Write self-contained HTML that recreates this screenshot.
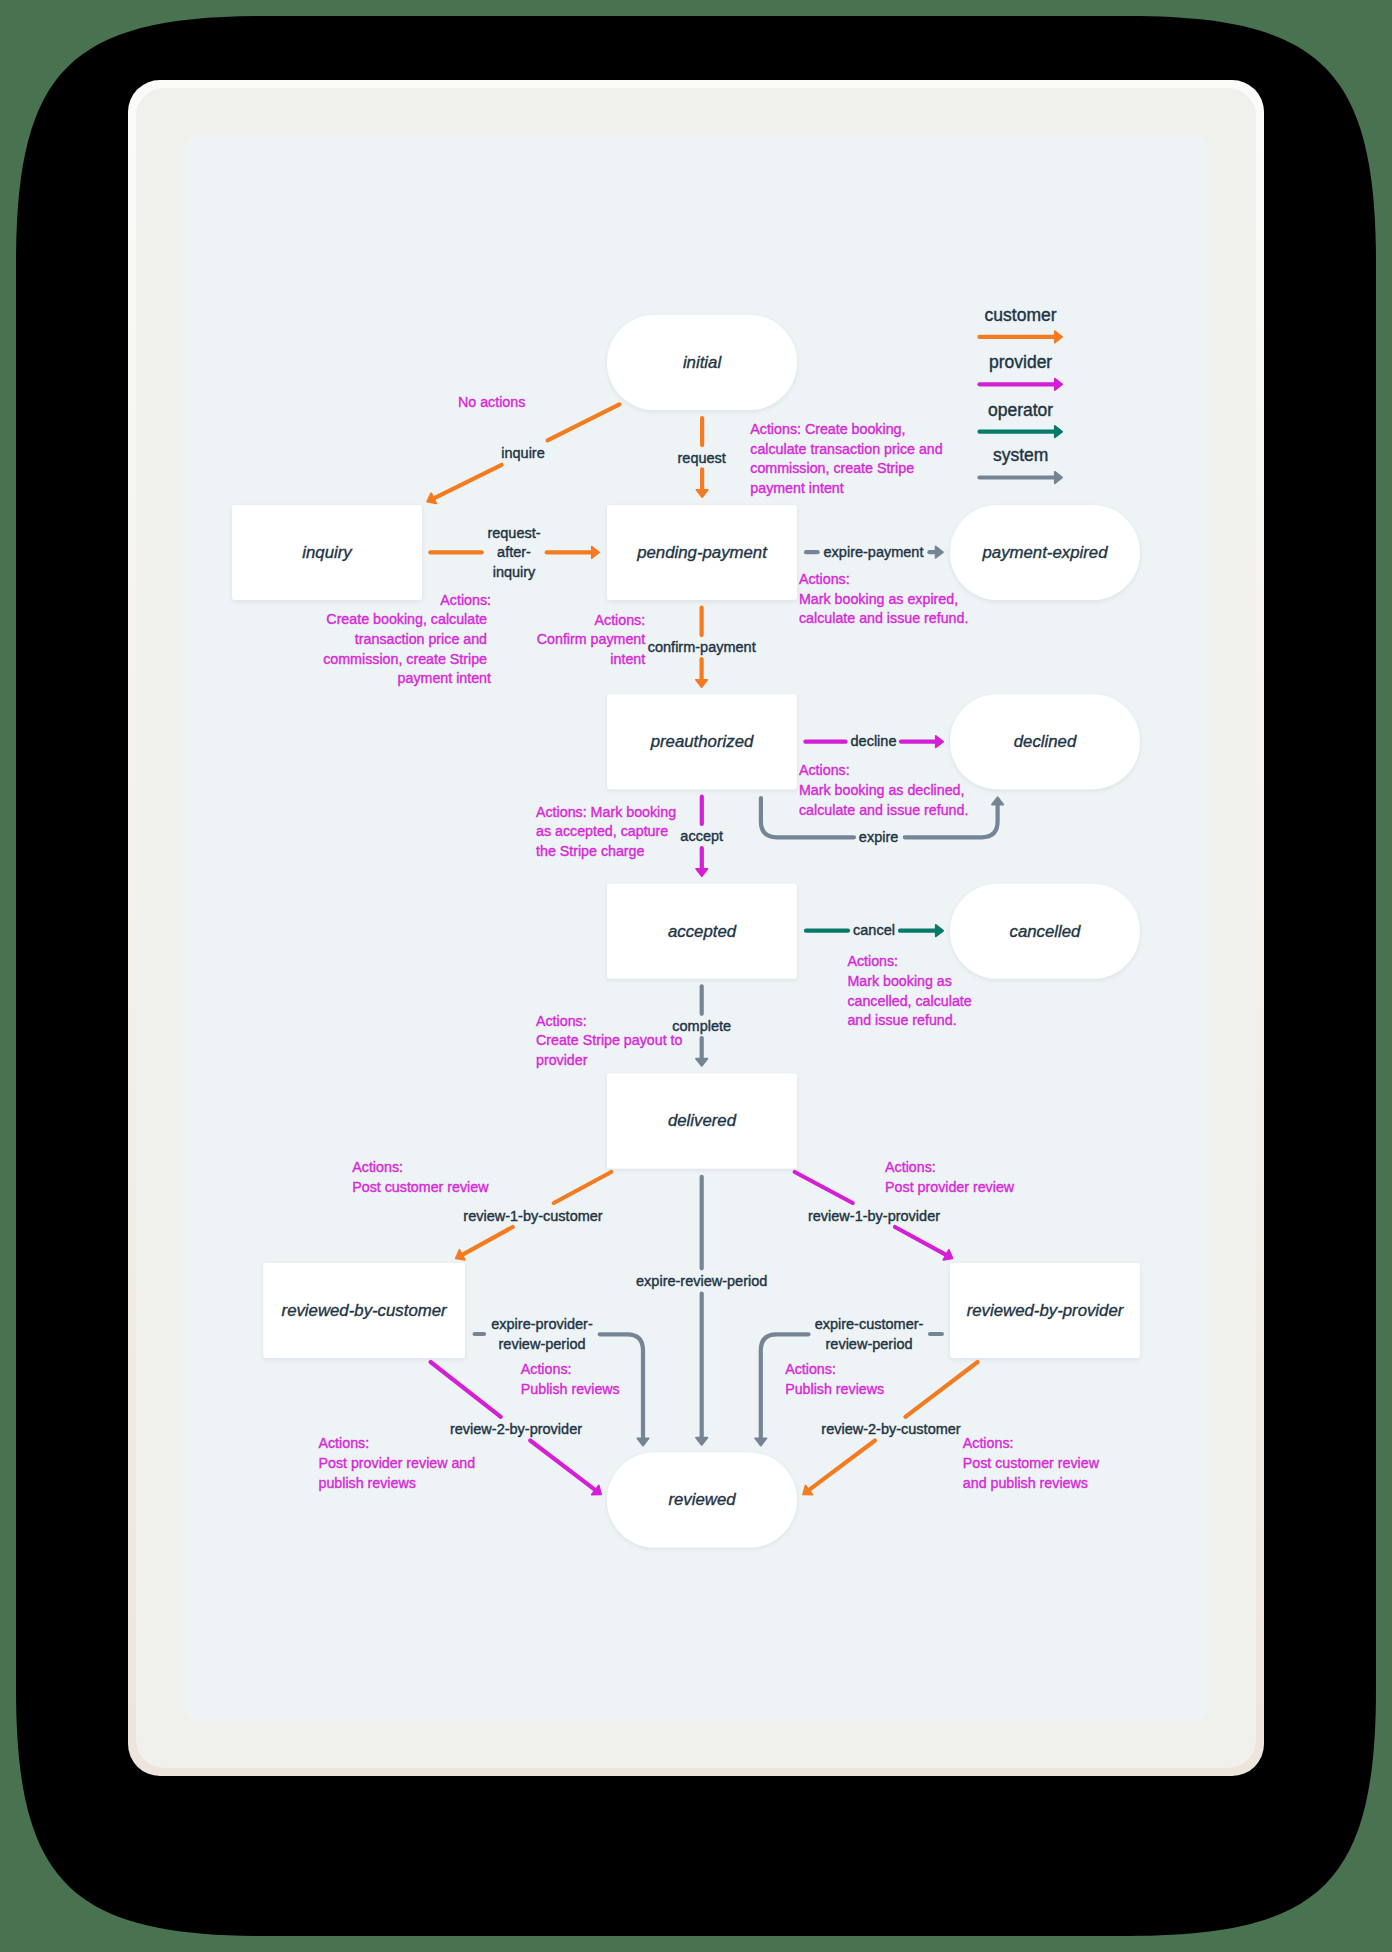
<!DOCTYPE html>
<html><head><meta charset="utf-8"><title>Booking state diagram</title>
<style>
html,body{margin:0;padding:0;width:1392px;height:1952px;overflow:hidden;background:#497350;}
svg{position:absolute;left:0;top:0;display:block;}
text{font-family:"Liberation Sans",sans-serif;}
</style></head><body>
<svg width="1392" height="1952" viewBox="0 0 1392 1952">
<path d="M16,264 C16,70 70,16 264,16 L1128,16 C1322,16 1376,70 1376,264 L1376,1688 C1376,1882 1322,1936 1128,1936 L264,1936 C70,1936 16,1882 16,1688 Z" fill="#000"/>
<defs><linearGradient id="bd" x1="0" y1="0" x2="0" y2="1"><stop offset="0" stop-color="#fbfbf9"/><stop offset="1" stop-color="#ede5dc"/></linearGradient><filter id="sh" x="-10%" y="-10%" width="120%" height="130%"><feDropShadow dx="0" dy="1.5" stdDeviation="2.2" flood-color="#1a2a40" flood-opacity="0.08"/></filter></defs>
<rect x="128" y="80" width="1136" height="1696" rx="32" fill="url(#bd)"/>
<rect x="136" y="88" width="1120" height="1680" rx="28" fill="#f0f0ec"/>
<rect x="184" y="136" width="1024" height="1584" rx="14" fill="#eef3f6"/>
<g filter="url(#sh)">
<rect x="607" y="315" width="190" height="95" rx="47.5" fill="#fff"/>
<rect x="232" y="505" width="190" height="95" rx="3" fill="#fff"/>
<rect x="607" y="505" width="190" height="95" rx="3" fill="#fff"/>
<rect x="950" y="505" width="190" height="95" rx="47.5" fill="#fff"/>
<rect x="607" y="694.2" width="190" height="95" rx="3" fill="#fff"/>
<rect x="950" y="694.2" width="190" height="95" rx="47.5" fill="#fff"/>
<rect x="607" y="883.8" width="190" height="95" rx="3" fill="#fff"/>
<rect x="950" y="883.8" width="190" height="95" rx="47.5" fill="#fff"/>
<rect x="607" y="1073.6" width="190" height="95" rx="3" fill="#fff"/>
<rect x="263.3" y="1263" width="201.7" height="95" rx="3" fill="#fff"/>
<rect x="950" y="1263" width="190" height="95" rx="3" fill="#fff"/>
<rect x="607" y="1452.5" width="190" height="95" rx="47.5" fill="#fff"/>
</g>
<g font-style="italic" font-size="16.8" fill="#223443" stroke="#223443" stroke-width="0.35" text-anchor="middle">
<text x="702.0" y="367.7">initial</text>
<text x="327.0" y="557.7">inquiry</text>
<text x="702.0" y="557.7">pending-payment</text>
<text x="1045.0" y="557.7">payment-expired</text>
<text x="702.0" y="746.9">preauthorized</text>
<text x="1045.0" y="746.9">declined</text>
<text x="702.0" y="936.5">accepted</text>
<text x="1045.0" y="936.5">cancelled</text>
<text x="702.0" y="1126.3">delivered</text>
<text x="364.1" y="1315.7">reviewed-by-customer</text>
<text x="1045.0" y="1315.7">reviewed-by-provider</text>
<text x="702.0" y="1505.2">reviewed</text>
</g>
<line x1="979.5" y1="336.9" x2="1055.80" y2="336.90" stroke="#f47b20" stroke-width="4.2" stroke-linecap="round"/>
<polygon points="1062.10,336.90 1054.80,342.60 1054.80,331.20" fill="#f47b20" stroke="#f47b20" stroke-width="1.8" stroke-linejoin="round"/>
<line x1="979.5" y1="384.3" x2="1055.80" y2="384.30" stroke="#d41fd6" stroke-width="4.2" stroke-linecap="round"/>
<polygon points="1062.10,384.30 1054.80,390.00 1054.80,378.60" fill="#d41fd6" stroke="#d41fd6" stroke-width="1.8" stroke-linejoin="round"/>
<line x1="979.5" y1="431.7" x2="1055.80" y2="431.70" stroke="#077a68" stroke-width="4.2" stroke-linecap="round"/>
<polygon points="1062.10,431.70 1054.80,437.40 1054.80,426.00" fill="#077a68" stroke="#077a68" stroke-width="1.8" stroke-linejoin="round"/>
<line x1="979.5" y1="477.5" x2="1055.80" y2="477.50" stroke="#768595" stroke-width="4.2" stroke-linecap="round"/>
<polygon points="1062.10,477.50 1054.80,483.20 1054.80,471.80" fill="#768595" stroke="#768595" stroke-width="1.8" stroke-linejoin="round"/>
<line x1="619.4" y1="404.4" x2="547.6" y2="440.3" stroke="#f47b20" stroke-width="4.2" stroke-linecap="round"/>
<line x1="501.6" y1="464.8" x2="432.76" y2="498.81" stroke="#f47b20" stroke-width="4.2" stroke-linecap="round"/>
<polygon points="427.11,501.60 431.13,493.26 436.18,503.48" fill="#f47b20" stroke="#f47b20" stroke-width="1.8" stroke-linejoin="round"/>
<line x1="702.1" y1="418.2" x2="702.1" y2="445.1" stroke="#f47b20" stroke-width="4.2" stroke-linecap="round"/>
<line x1="702.1" y1="469.4" x2="702.10" y2="490.80" stroke="#f47b20" stroke-width="4.2" stroke-linecap="round"/>
<polygon points="702.10,497.10 696.40,489.80 707.80,489.80" fill="#f47b20" stroke="#f47b20" stroke-width="1.8" stroke-linejoin="round"/>
<line x1="430.3" y1="552.4" x2="481.8" y2="552.4" stroke="#f47b20" stroke-width="4.2" stroke-linecap="round"/>
<line x1="546.7" y1="552.4" x2="592.80" y2="552.40" stroke="#f47b20" stroke-width="4.2" stroke-linecap="round"/>
<polygon points="599.10,552.40 591.80,558.10 591.80,546.70" fill="#f47b20" stroke="#f47b20" stroke-width="1.8" stroke-linejoin="round"/>
<line x1="806.0" y1="552.2" x2="817.6" y2="552.2" stroke="#768595" stroke-width="4.2" stroke-linecap="round"/>
<line x1="929.4" y1="552.2" x2="936.60" y2="552.20" stroke="#768595" stroke-width="4.2" stroke-linecap="round"/>
<polygon points="942.90,552.20 935.60,557.90 935.60,546.50" fill="#768595" stroke="#768595" stroke-width="1.8" stroke-linejoin="round"/>
<line x1="701.6" y1="607.7" x2="701.6" y2="635.1" stroke="#f47b20" stroke-width="4.2" stroke-linecap="round"/>
<line x1="701.6" y1="659.2" x2="701.60" y2="680.80" stroke="#f47b20" stroke-width="4.2" stroke-linecap="round"/>
<polygon points="701.60,687.10 695.90,679.80 707.30,679.80" fill="#f47b20" stroke="#f47b20" stroke-width="1.8" stroke-linejoin="round"/>
<line x1="805.4" y1="741.7" x2="845.6" y2="741.7" stroke="#d41fd6" stroke-width="4.2" stroke-linecap="round"/>
<line x1="901" y1="741.7" x2="936.80" y2="741.70" stroke="#d41fd6" stroke-width="4.2" stroke-linecap="round"/>
<polygon points="943.10,741.70 935.80,747.40 935.80,736.00" fill="#d41fd6" stroke="#d41fd6" stroke-width="1.8" stroke-linejoin="round"/>
<line x1="701.8" y1="796.7" x2="701.8" y2="824.0" stroke="#d41fd6" stroke-width="4.2" stroke-linecap="round"/>
<line x1="701.8" y1="848.2" x2="701.80" y2="869.80" stroke="#d41fd6" stroke-width="4.2" stroke-linecap="round"/>
<polygon points="701.80,876.10 696.10,868.80 707.50,868.80" fill="#d41fd6" stroke="#d41fd6" stroke-width="1.8" stroke-linejoin="round"/>
<path d="M760.9,798 L760.9,821.3 Q760.9,837.3 776.9,837.3 L854,837.3" fill="none" stroke="#768595" stroke-width="4.2" stroke-linecap="round"/>
<path d="M904.8,837.3 L981.6,837.3 Q997.6,837.3 997.6,821.3 L997.6,804" fill="none" stroke="#768595" stroke-width="4.2" stroke-linecap="round"/>
<polygon points="997.60,797.20 1003.30,804.50 991.90,804.50" fill="#768595" stroke="#768595" stroke-width="1.8" stroke-linejoin="round"/>
<line x1="806.0" y1="930.7" x2="848.0" y2="930.7" stroke="#077a68" stroke-width="4.2" stroke-linecap="round"/>
<line x1="900" y1="930.7" x2="936.80" y2="930.70" stroke="#077a68" stroke-width="4.2" stroke-linecap="round"/>
<polygon points="943.10,930.70 935.80,936.40 935.80,925.00" fill="#077a68" stroke="#077a68" stroke-width="1.8" stroke-linejoin="round"/>
<line x1="701.7" y1="986.3" x2="701.7" y2="1013.8" stroke="#768595" stroke-width="4.2" stroke-linecap="round"/>
<line x1="701.7" y1="1038.1" x2="701.70" y2="1059.60" stroke="#768595" stroke-width="4.2" stroke-linecap="round"/>
<polygon points="701.70,1065.90 696.00,1058.60 707.40,1058.60" fill="#768595" stroke="#768595" stroke-width="1.8" stroke-linejoin="round"/>
<line x1="611.2" y1="1172.0" x2="553.8" y2="1203.0" stroke="#f47b20" stroke-width="4.2" stroke-linecap="round"/>
<line x1="512.7" y1="1227" x2="461.31" y2="1255.32" stroke="#f47b20" stroke-width="4.2" stroke-linecap="round"/>
<polygon points="455.79,1258.37 459.43,1249.85 464.93,1259.83" fill="#f47b20" stroke="#f47b20" stroke-width="1.8" stroke-linejoin="round"/>
<line x1="794.7" y1="1172.0" x2="852.7" y2="1203.0" stroke="#d41fd6" stroke-width="4.2" stroke-linecap="round"/>
<line x1="895" y1="1227" x2="946.98" y2="1255.35" stroke="#d41fd6" stroke-width="4.2" stroke-linecap="round"/>
<polygon points="952.51,1258.37 943.37,1259.88 948.83,1249.87" fill="#d41fd6" stroke="#d41fd6" stroke-width="1.8" stroke-linejoin="round"/>
<line x1="701.7" y1="1176.9" x2="701.7" y2="1268.3" stroke="#768595" stroke-width="4.2" stroke-linecap="round"/>
<line x1="701.7" y1="1293.5" x2="701.70" y2="1438.60" stroke="#768595" stroke-width="4.2" stroke-linecap="round"/>
<polygon points="701.70,1444.90 696.00,1437.60 707.40,1437.60" fill="#768595" stroke="#768595" stroke-width="1.8" stroke-linejoin="round"/>
<line x1="474.6" y1="1334.0" x2="484.0" y2="1334.0" stroke="#768595" stroke-width="4.2" stroke-linecap="round"/>
<path d="M599.7,1334.3 L627,1334.3 Q643,1334.3 643,1350.3 L643,1438" fill="none" stroke="#768595" stroke-width="4.2" stroke-linecap="round"/>
<polygon points="643.00,1445.60 637.30,1438.30 648.70,1438.30" fill="#768595" stroke="#768595" stroke-width="1.8" stroke-linejoin="round"/>
<line x1="941.9" y1="1334.0" x2="930.0" y2="1334.0" stroke="#768595" stroke-width="4.2" stroke-linecap="round"/>
<path d="M808.5,1334.3 L776.8,1334.3 Q760.8,1334.3 760.8,1350.3 L760.8,1438" fill="none" stroke="#768595" stroke-width="4.2" stroke-linecap="round"/>
<polygon points="760.80,1445.60 755.10,1438.30 766.50,1438.30" fill="#768595" stroke="#768595" stroke-width="1.8" stroke-linejoin="round"/>
<line x1="430.6" y1="1362.0" x2="500.8" y2="1416.8" stroke="#d41fd6" stroke-width="4.2" stroke-linecap="round"/>
<line x1="530.2" y1="1440.5" x2="596.07" y2="1490.64" stroke="#d41fd6" stroke-width="4.2" stroke-linecap="round"/>
<polygon points="601.08,1494.45 591.82,1494.57 598.73,1485.50" fill="#d41fd6" stroke="#d41fd6" stroke-width="1.8" stroke-linejoin="round"/>
<line x1="977.6" y1="1362.0" x2="905.4" y2="1416.8" stroke="#f47b20" stroke-width="4.2" stroke-linecap="round"/>
<line x1="875" y1="1440.5" x2="808.16" y2="1490.68" stroke="#f47b20" stroke-width="4.2" stroke-linecap="round"/>
<polygon points="803.12,1494.46 805.54,1485.52 812.38,1494.64" fill="#f47b20" stroke="#f47b20" stroke-width="1.8" stroke-linejoin="round"/>
<g font-size="14.8" fill="#223443" stroke="#223443" stroke-width="0.4">
<text transform="translate(523,457.8) scale(0.98,1)" text-anchor="middle">inquire</text>
<text transform="translate(701.7,463.3) scale(0.98,1)" text-anchor="middle">request</text>
<text transform="translate(514,537.7) scale(0.98,1)" text-anchor="middle">request-</text>
<text transform="translate(514,557.1) scale(0.98,1)" text-anchor="middle">after-</text>
<text transform="translate(514,576.7) scale(0.98,1)" text-anchor="middle">inquiry</text>
<text transform="translate(873.5,556.9) scale(0.98,1)" text-anchor="middle">expire-payment</text>
<text transform="translate(701.7,652.3) scale(0.98,1)" text-anchor="middle">confirm-payment</text>
<text transform="translate(873.5,746.4) scale(0.98,1)" text-anchor="middle">decline</text>
<text transform="translate(701.7,841.3) scale(0.98,1)" text-anchor="middle">accept</text>
<text transform="translate(878.6,842.0) scale(0.98,1)" text-anchor="middle">expire</text>
<text transform="translate(874,935.4) scale(0.98,1)" text-anchor="middle">cancel</text>
<text transform="translate(701.7,1031.0) scale(0.98,1)" text-anchor="middle">complete</text>
<text transform="translate(533,1220.7) scale(0.98,1)" text-anchor="middle">review-1-by-customer</text>
<text transform="translate(874,1220.7) scale(0.98,1)" text-anchor="middle">review-1-by-provider</text>
<text transform="translate(701.7,1285.7) scale(0.98,1)" text-anchor="middle">expire-review-period</text>
<text transform="translate(542,1329.4) scale(0.98,1)" text-anchor="middle">expire-provider-</text>
<text transform="translate(542,1348.7) scale(0.98,1)" text-anchor="middle">review-period</text>
<text transform="translate(869,1329.4) scale(0.98,1)" text-anchor="middle">expire-customer-</text>
<text transform="translate(869,1348.7) scale(0.98,1)" text-anchor="middle">review-period</text>
<text transform="translate(516,1434.0) scale(0.98,1)" text-anchor="middle">review-2-by-provider</text>
<text transform="translate(891,1434.0) scale(0.98,1)" text-anchor="middle">review-2-by-customer</text>
</g>
<g font-size="17.5" fill="#223443" stroke="#223443" stroke-width="0.4" text-anchor="middle">
<text x="1020.6" y="320.7">customer</text>
<text x="1020.6" y="367.6">provider</text>
<text x="1020.6" y="415.5">operator</text>
<text x="1020.6" y="460.8">system</text>
</g>
<g font-size="14.8" fill="#d62ad6" stroke="#d62ad6" stroke-width="0.4">
<text transform="translate(458,406.80) scale(0.963,1)" text-anchor="start" xml:space="preserve">No actions</text>
<text transform="translate(750.3,434.00) scale(0.963,1)" text-anchor="start" xml:space="preserve">Actions: Create booking,</text>
<text transform="translate(750.3,453.70) scale(0.963,1)" text-anchor="start" xml:space="preserve">calculate transaction price and</text>
<text transform="translate(750.3,473.40) scale(0.963,1)" text-anchor="start" xml:space="preserve">commission, create Stripe</text>
<text transform="translate(750.3,493.10) scale(0.963,1)" text-anchor="start" xml:space="preserve">payment intent</text>
<text transform="translate(491,604.60) scale(0.963,1)" text-anchor="end" xml:space="preserve">Actions:</text>
<text transform="translate(491,624.30) scale(0.963,1)" text-anchor="end" xml:space="preserve">Create booking, calculate </text>
<text transform="translate(491,644.00) scale(0.963,1)" text-anchor="end" xml:space="preserve">transaction price and </text>
<text transform="translate(491,663.70) scale(0.963,1)" text-anchor="end" xml:space="preserve">commission, create Stripe </text>
<text transform="translate(491,683.40) scale(0.963,1)" text-anchor="end" xml:space="preserve">payment intent</text>
<text transform="translate(799,584.00) scale(0.963,1)" text-anchor="start" xml:space="preserve">Actions:</text>
<text transform="translate(799,603.70) scale(0.963,1)" text-anchor="start" xml:space="preserve">Mark booking as expired,</text>
<text transform="translate(799,623.40) scale(0.963,1)" text-anchor="start" xml:space="preserve">calculate and issue refund.</text>
<text transform="translate(645.2,624.70) scale(0.963,1)" text-anchor="end" xml:space="preserve">Actions:</text>
<text transform="translate(645.2,644.40) scale(0.963,1)" text-anchor="end" xml:space="preserve">Confirm payment</text>
<text transform="translate(645.2,664.10) scale(0.963,1)" text-anchor="end" xml:space="preserve">intent</text>
<text transform="translate(799,775.10) scale(0.963,1)" text-anchor="start" xml:space="preserve">Actions:</text>
<text transform="translate(799,794.80) scale(0.963,1)" text-anchor="start" xml:space="preserve">Mark booking as declined,</text>
<text transform="translate(799,814.50) scale(0.963,1)" text-anchor="start" xml:space="preserve">calculate and issue refund.</text>
<text transform="translate(536,816.70) scale(0.963,1)" text-anchor="start" xml:space="preserve">Actions: Mark booking</text>
<text transform="translate(536,836.40) scale(0.963,1)" text-anchor="start" xml:space="preserve">as accepted, capture</text>
<text transform="translate(536,856.10) scale(0.963,1)" text-anchor="start" xml:space="preserve">the Stripe charge</text>
<text transform="translate(847.4,966.30) scale(0.963,1)" text-anchor="start" xml:space="preserve">Actions:</text>
<text transform="translate(847.4,986.00) scale(0.963,1)" text-anchor="start" xml:space="preserve">Mark booking as</text>
<text transform="translate(847.4,1005.70) scale(0.963,1)" text-anchor="start" xml:space="preserve">cancelled, calculate</text>
<text transform="translate(847.4,1025.40) scale(0.963,1)" text-anchor="start" xml:space="preserve">and issue refund.</text>
<text transform="translate(536,1025.60) scale(0.963,1)" text-anchor="start" xml:space="preserve">Actions:</text>
<text transform="translate(536,1045.30) scale(0.963,1)" text-anchor="start" xml:space="preserve">Create Stripe payout to</text>
<text transform="translate(536,1065.00) scale(0.963,1)" text-anchor="start" xml:space="preserve">provider</text>
<text transform="translate(352.3,1172.30) scale(0.963,1)" text-anchor="start" xml:space="preserve">Actions:</text>
<text transform="translate(352.3,1192.00) scale(0.963,1)" text-anchor="start" xml:space="preserve">Post customer review</text>
<text transform="translate(885.1,1172.30) scale(0.963,1)" text-anchor="start" xml:space="preserve">Actions:</text>
<text transform="translate(885.1,1192.00) scale(0.963,1)" text-anchor="start" xml:space="preserve">Post provider review</text>
<text transform="translate(520.8,1373.90) scale(0.963,1)" text-anchor="start" xml:space="preserve">Actions:</text>
<text transform="translate(520.8,1393.60) scale(0.963,1)" text-anchor="start" xml:space="preserve">Publish reviews</text>
<text transform="translate(785.2,1373.90) scale(0.963,1)" text-anchor="start" xml:space="preserve">Actions:</text>
<text transform="translate(785.2,1393.60) scale(0.963,1)" text-anchor="start" xml:space="preserve">Publish reviews</text>
<text transform="translate(318.5,1448.30) scale(0.963,1)" text-anchor="start" xml:space="preserve">Actions:</text>
<text transform="translate(318.5,1468.00) scale(0.963,1)" text-anchor="start" xml:space="preserve">Post provider review and</text>
<text transform="translate(318.5,1487.70) scale(0.963,1)" text-anchor="start" xml:space="preserve">publish reviews</text>
<text transform="translate(962.8,1448.30) scale(0.963,1)" text-anchor="start" xml:space="preserve">Actions:</text>
<text transform="translate(962.8,1468.00) scale(0.963,1)" text-anchor="start" xml:space="preserve">Post customer review</text>
<text transform="translate(962.8,1487.70) scale(0.963,1)" text-anchor="start" xml:space="preserve">and publish reviews</text>
</g>
</svg>
</body></html>
